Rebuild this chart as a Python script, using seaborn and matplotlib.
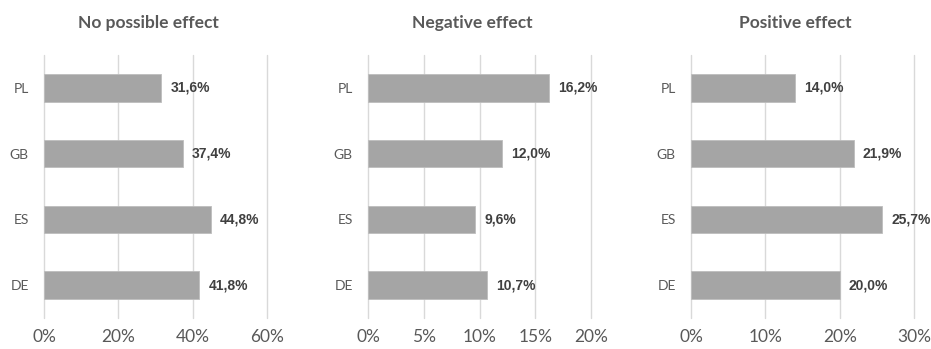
import matplotlib
matplotlib.use("Agg")
import matplotlib.pyplot as plt
import matplotlib.ticker as mticker
import seaborn as sns
import pandas as pd

countries = ["PL", "GB", "ES", "DE"]
titles = ["No possible effect", "Negative effect", "Positive effect"]
no_effect = [31.6, 37.4, 44.8, 41.8]
negative = [16.2, 12.0, 9.6, 10.7]
positive = [14.0, 21.9, 25.7, 20.0]
x_limits = [60, 20, 30]
x_steps = [20, 5, 10]

sns.set_theme(style="white")
plt.rcParams["font.family"] = ["Lato", "DejaVu Sans"]

BAR = "#A5A5A5"
GRID = "#D9D9D9"
TEXT = "#595959"
VALUE = "#404040"

fig = plt.figure(figsize=(9.31, 3.49), dpi=100)
lefts = [44, 368, 691]
series = [no_effect, negative, positive]

for left, title, values, xmax, step in zip(lefts, titles, series, x_limits, x_steps):
    ax = fig.add_axes([left / 931, 1 - 318 / 349, 223 / 931, 263 / 349])
    df = pd.DataFrame({"country": countries, "share": values})
    sns.barplot(data=df, x="share", y="country", order=countries, color=BAR,
                saturation=1, width=0.42, edgecolor="#BDBDBD", linewidth=0.6,
                ax=ax, zorder=3)
    ax.set_xlim(0, xmax)
    ax.set_ylim(3.5, -0.5)
    ax.xaxis.set_major_locator(mticker.MultipleLocator(step))
    ax.xaxis.set_major_formatter(mticker.FuncFormatter(lambda v, p: f"{v:.0f}%"))
    ax.grid(axis="x", color=GRID, linewidth=1.0, zorder=0)
    ax.grid(axis="y", visible=False)
    for gl in ax.get_xgridlines():
        gl.set_clip_on(False)
    for s in ax.spines.values():
        s.set_visible(False)
    ax.set_xlabel("")
    ax.set_ylabel("")
    ax.tick_params(axis="x", length=0, pad=8, labelsize=12.5, labelcolor=TEXT)
    ax.tick_params(axis="y", length=0, pad=11, labelsize=10, labelcolor=TEXT)
    off = xmax * 9 / 223
    for i, v in enumerate(values):
        ax.text(v + off, i, f"{v:.1f}%".replace(".", ","), va="center", ha="left",
                fontsize=10, fontweight="bold", color=VALUE,
                family=["Liberation Sans", "DejaVu Sans"], zorder=4)
    ax.text(0.47, 1.122, title, transform=ax.transAxes, ha="center", va="center",
            fontsize=12.5, fontweight="bold", color=TEXT)
    ax.patch.set_alpha(0)

fig.savefig("out.png", dpi=100, facecolor="white")
